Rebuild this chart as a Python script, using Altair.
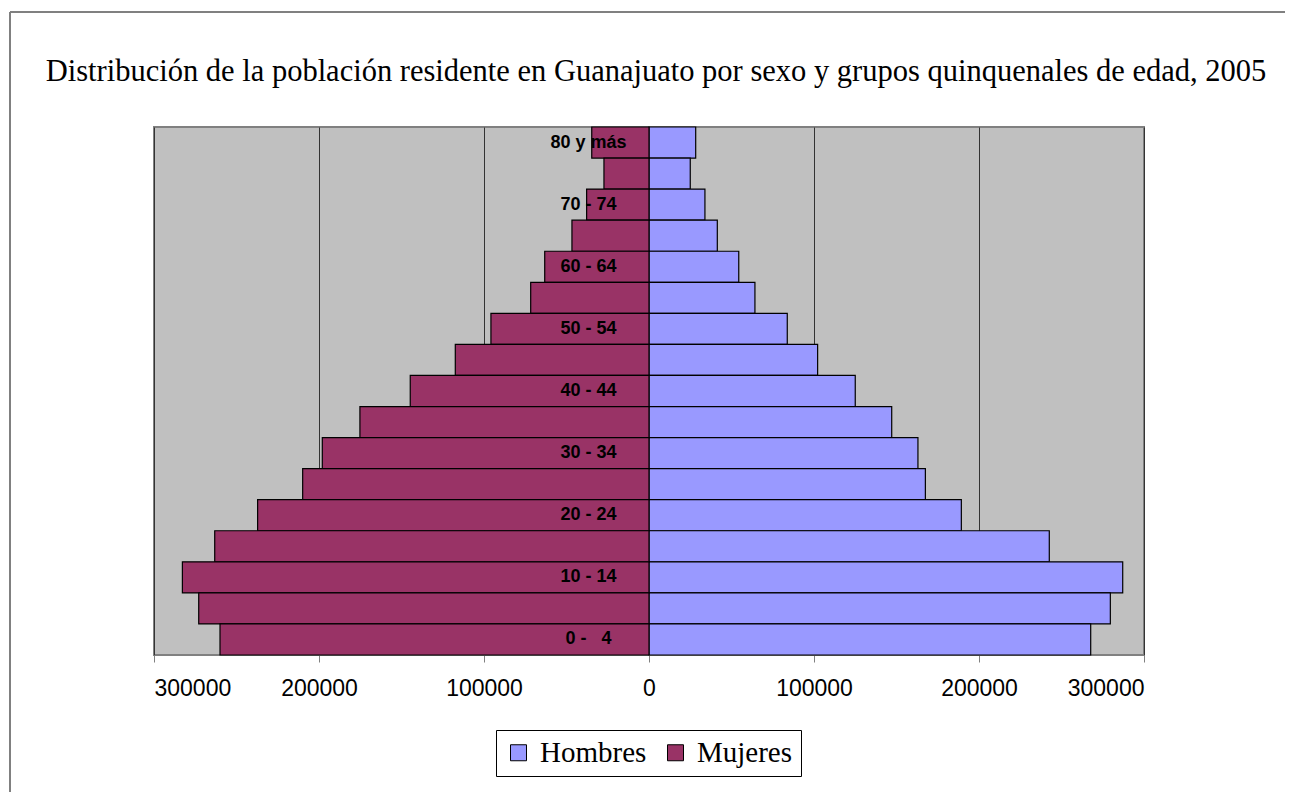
import altair as alt
import pandas as pd

groups = ["80 y más", "75 - 79", "70 - 74", "65 - 69", "60 - 64", "55 - 59",
          "50 - 54", "45 - 49", "40 - 44", "35 - 39", "30 - 34", "25 - 29",
          "20 - 24", "15 - 19", "10 - 14", "5 - 9", "0 -\u00a0\u00a0 4"]
labeled = ["80 y más", "70 - 74", "60 - 64", "50 - 54", "40 - 44",
           "30 - 34", "20 - 24", "10 - 14", "0 -\u00a0\u00a0 4"]
hombres = [28300, 25000, 33900, 41400, 54400, 64200, 83800, 102200, 125000,
           147100, 163000, 167500, 189300, 242600, 287100, 279600, 267700]
mujeres = [34700, 27300, 37800, 46700, 63200, 71700, 95800, 117400, 144700,
           175200, 198000, 209900, 237200, 263200, 282800, 272900, 260000]
x_ticks = [-300000, -200000, -100000, 0, 100000, 200000, 300000]
series = ["Hombres", "Mujeres"]
colors = ["#9999FF", "#993366"]
title = "Distribución de la población residente en Guanajuato por sexo y grupos quinquenales de edad, 2005"

df = pd.DataFrame({
    "grupo": groups * 2,
    "sexo": ["Hombres"] * len(groups) + ["Mujeres"] * len(groups),
    "valor": hombres + [-v for v in mujeres],
})

bars = alt.Chart(df).mark_bar(stroke="black", strokeWidth=1.2).encode(
    y=alt.Y("grupo:N", sort=groups,
            scale=alt.Scale(paddingInner=0, paddingOuter=0),
            axis=alt.Axis(title=None, values=labeled, domain=False, ticks=False,
                          tickSize=0, labelPadding=0, offset=-434,
                          labelAlign="center", labelBaseline="middle",
                          labelFont="Liberation Sans", labelFontWeight="bold",
                          labelFontSize=18, labelColor="black", zindex=1)),
    x=alt.X("valor:Q",
            scale=alt.Scale(domain=[-300000, 300000], nice=False, zero=False),
            axis=alt.Axis(title=None, values=x_ticks,
                          labelExpr="format(abs(datum.value), 'd')",
                          labelFont="Liberation Sans", labelFontSize=23,
                          labelColor="black", labelPadding=15,
                          tickSize=7, tickColor="#808080",
                          domainColor="#808080", grid=True,
                          gridColor="#333333", gridWidth=1)),
    color=alt.Color("sexo:N",
                    scale=alt.Scale(domain=series, range=colors),
                    legend=alt.Legend(title=None, orient="none",
                                      legendX=342, legendY=603,
                                      direction="horizontal",
                                      symbolType="square", symbolSize=256,
                                      symbolStrokeColor="black",
                                      symbolStrokeWidth=1,
                                      symbolOpacity=1,
                                      labelFont="Liberation Serif",
                                      labelFontSize=29, labelColor="black",
                                      labelOffset=7, columnPadding=14,
                                      padding=8, strokeColor="black",
                                      fillColor="white")),
)

frame_left = alt.Chart(df).mark_rule(color="#808080", strokeWidth=2).encode(
    x=alt.value(-144), y=alt.value(-115), y2=alt.value(700))
frame_top = alt.Chart(df).mark_rule(color="#808080", strokeWidth=2).encode(
    x=alt.value(-144), x2=alt.value(1200), y=alt.value(-115))

chart = alt.layer(frame_left, frame_top, bars).properties(
    width=990, height=528,
    title=alt.TitleParams(title, font="Liberation Serif", fontSize=30.5,
                          fontWeight="normal", color="black", anchor="middle",
                          frame="group", baseline="alphabetic", offset=-100, dx=7),
    autosize=alt.AutoSizeParams(type="none"),
    padding={"left": 146, "top": 119, "right": 141, "bottom": 137},
).configure_view(fill="#C0C0C0", stroke="#808080", strokeWidth=2)

chart.save("out.html", embed_options={"renderer": "svg", "actions": False})
